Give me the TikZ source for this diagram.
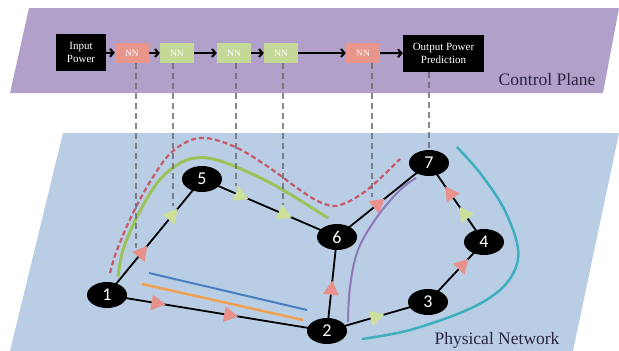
\documentclass[tikz,border=0pt]{standalone}
\usepackage{fontspec}
\setmainfont{Liberation Serif}
\newfontfamily\serifx{Liberation Serif}
\newfontfamily\calib{Carlito}
\usetikzlibrary{shapes.geometric,arrows.meta,calc,decorations.markings}
\pgfdeclarelayer{planes}
\pgfdeclarelayer{edges}
\pgfsetlayers{planes,edges,main}
\definecolor{cpurple}{HTML}{B1A1CA}
\definecolor{cblue}{HTML}{B9CDE4}
\definecolor{nnred}{HTML}{E8968C}
\definecolor{nngreen}{HTML}{C4D898}
\definecolor{tred}{HTML}{E8918C}
\definecolor{tgreen}{HTML}{CCE09A}
\definecolor{cdash}{HTML}{C85A68}
\definecolor{cgreenc}{HTML}{9CC25A}
\definecolor{cpurc}{HTML}{8E78B8}
\definecolor{cteal}{HTML}{3FAFBF}
\definecolor{cblueline}{HTML}{4A7EC2}
\definecolor{corange}{HTML}{F0A050}
\definecolor{ctext}{HTML}{2A2440}
\begin{document}
\begin{tikzpicture}[x=1pt,y=-1pt,
  blackbox/.style={fill=black,text=white,inner sep=0pt,align=center,
    font=\serifx\fontsize{11}{13.5}\selectfont},
  nnbox/.style={fill=#1,text=white,minimum width=34pt,minimum height=20pt,inner sep=0pt,
    font=\serifx\fontsize{9.5}{10}\selectfont},
  carrow/.style={line width=2pt,-{Straight Barb[length=3.5pt,width=8pt]}},
  pnode/.style={ellipse,fill=black,text=white,minimum width=40pt,minimum height=26pt,
    inner sep=0pt,font=\calib\fontsize{18}{18}\selectfont},
  edge/.style={line width=1.8pt,black},
  trimark/.style 2 args={postaction={decorate,decoration={markings,
    mark=at position #2 with {\fill[#1] (8,0) -- (-6,8) -- (-6,-8) -- cycle;}}}},
  gdash/.style={line width=1.5pt,gray!85!black,opacity=.8,dash pattern=on 6pt off 4pt},
  plabel/.style={text=ctext,font=\serifx\fontsize{17.5}{18}\selectfont}
]
\useasboundingbox (0,0) rectangle (619,351);
\begin{pgfonlayer}{planes}
\fill[cpurple] (29,8) -- (619,8) -- (603,93) -- (10,93) -- cycle;
\fill[cblue] (63,133) -- (619,133) -- (573,351) -- (10,351) -- cycle;
\end{pgfonlayer}

% control plane
\node[blackbox,minimum width=50pt,minimum height=37pt] (inp) at (81,52.5) {Input\\Power};
\node[nnbox=nnred] (nn1) at (132,53) {NN};
\node[nnbox=nngreen] (nn2) at (177,53) {NN};
\node[nnbox=nngreen] (nn3) at (234,53) {NN};
\node[nnbox=nngreen] (nn4) at (281,53) {NN};
\node[nnbox=nnred] (nn5) at (363,53) {NN};
\node[blackbox,minimum width=81pt,minimum height=37pt] (out) at (443.5,53.5) {Output Power\\Prediction};
\node[plabel,anchor=base east] (cp) at (599,85) {Control Plane};
\draw[carrow] (inp) -- (nn1);
\draw[carrow] (nn1) -- (nn2);
\draw[carrow] (nn2) -- (nn3);
\draw[carrow] (nn3) -- (nn4);
\draw[carrow] (nn4) -- (nn5);
\draw[carrow] (nn5) -- (out);

% physical network nodes
\node[pnode] (n1) at (107,295) {1};
\node[pnode] (n2) at (327,331) {2};
\node[pnode] (n3) at (428,302) {3};
\node[pnode] (n4) at (484,242) {4};
\node[pnode] (n5) at (202,179) {5};
\node[pnode] (n6) at (337,237) {6};
\node[pnode] (n7) at (429,163) {7};
\node[plabel,anchor=base east] (pn) at (563,344) {Physical Network};

\coordinate (g1) at (136,248);
\coordinate (g2) at (173,206);
\coordinate (g3) at (236,186);
\coordinate (g4) at (283,205);
\coordinate (g5) at (372,197);

\begin{pgfonlayer}{edges}
% path curves
\draw[cdash,line width=2.2pt,dash pattern=on 5pt off 3pt]
  plot[smooth,tension=0.6] coordinates {(110,273) (117,250) (133,213) (153,177) (173,151) (200,138) (233,146) (267,166) (300,190) (322,203) (340,205) (367,190) (400,159)};
\draw[cgreenc,line width=3pt]
  plot[smooth,tension=0.6] coordinates {(118,277) (123,250) (137,217) (157,183) (177,165) (195,158) (217,160) (250,173) (283,190) (328,218)};
\draw[cpurc,line width=2pt]
  plot[smooth,tension=0.6] coordinates {(348,322) (350,287) (358,250) (377,217) (400,190) (416,178)};
\draw[cteal,line width=2.5pt]
  plot[smooth,tension=0.6] coordinates {(457,147) (480,173) (503,207) (517,243) (516,267) (500,290) (467,310) (410,330) (362,339)};
\draw[cblueline,line width=2pt] (149,273) -- (307,310);
\draw[corange,line width=2.5pt] (142,284) -- (303,320);
% mapping lines
\draw[gdash] (g1 |- nn1.south) -- (g1);
\draw[gdash] (g2 |- nn2.south) -- (g2);
\draw[gdash] (g3 |- nn3.south) -- (g3);
\draw[gdash] (g4 |- nn4.south) -- (g4);
\draw[gdash] (g5 |- nn5.south) -- (g5);
\draw[gdash] (n7 |- out.south) -- (n7.north);
% links
\draw[edge,trimark={tred}{.37},trimark={tgreen}{.69}] (n1.center) -- (n5.center);
\draw[edge,trimark={tgreen}{.29},trimark={tgreen}{.61}] (n5.center) -- (n6.center);
\draw[edge,trimark={tred}{.45}] (n6.center) -- (n7.center);
\draw[edge,trimark={tgreen}{.36},trimark={tred}{.62}] (n4.center) -- (n7.center);
\draw[edge,trimark={tred}{.62}] (n3.center) -- (n4.center);
\draw[edge,trimark={tgreen}{.49}] (n2.center) -- (n3.center);
\draw[edge,trimark={tred}{.45}] (n2.center) -- (n6.center);
\draw[edge,trimark={tred}{.23},trimark={tred}{.56}] (n1.center) -- (n2.center);
\end{pgfonlayer}
\end{tikzpicture}
\end{document}
